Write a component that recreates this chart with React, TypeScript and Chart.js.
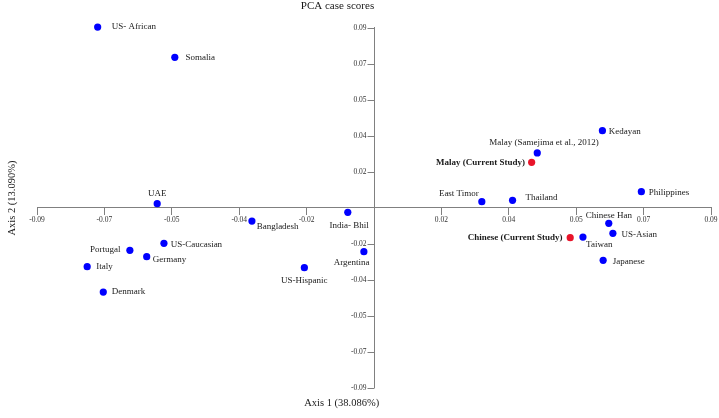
import React, { useEffect, useRef } from "react";
import { Chart, registerables } from "chart.js";

Chart.register(...registerables);

// ---- data ----
const populations = [
  "US- African", "Somalia", "UAE", "Bangladesh", "India- Bhil", "Argentina", "US-Hispanic",
  "US-Caucasian", "Portugal", "Germany", "Italy", "Denmark",
  "Kedayan", "Malay (Samejima et al., 2012)", "Malay (Current Study)", "East Timor", "Thailand",
  "Philippines", "Chinese Han", "US-Asian", "Taiwan", "Chinese (Current Study)", "Japanese",
];
const axis1Scores = [
  -0.0738, -0.0532, -0.0579, -0.0326, -0.0070, -0.0027, -0.0186,
  -0.0561, -0.0652, -0.0607, -0.0766, -0.0723,
  0.0610, 0.0436, 0.0421, 0.0288, 0.0370,
  0.0714, 0.0627, 0.0638, 0.0558, 0.0524, 0.0612,
];
const axis2Scores = [
  0.0903, 0.0752, 0.0020, -0.0067, -0.0023, -0.0220, -0.0300,
  -0.0178, -0.0213, -0.0245, -0.0295, -0.0422,
  0.0385, 0.0274, 0.0227, 0.0030, 0.0037,
  0.0080, -0.0078, -0.0128, -0.0147, -0.0150, -0.0263,
];
const currentStudy = [
  false, false, false, false, false, false, false,
  false, false, false, false, false,
  false, false, true, false, false,
  false, false, false, false, true, false,
];
const tickValues = [-0.09, -0.072, -0.054, -0.036, -0.018, 0.018, 0.036, 0.054, 0.072, 0.09];
const tickLabels = ["-0.09", "-0.07", "-0.05", "-0.04", "-0.02", "0.02", "0.04", "0.05", "0.07", "0.09"];

const chartTitle = "PCA case scores";
const xAxisTitle = "Axis 1 (38.086%)";
const yAxisTitle = "Axis 2 (13.090%)";

// ---- label placement (pixel offsets from the point, alignment) ----
const labelPlacement: [number, number, CanvasTextAlign][] = [
  [14, 0, "left"], [10.7, 0, "left"], [0, -9.7, "center"], [4.7, 5.7, "left"], [1.3, 13.4, "center"],
  [-12.3, 11, "center"], [0, 12.6, "center"],
  [6.7, 1, "left"], [-9.3, -1, "right"], [6, 2.6, "left"], [9, 0, "left"], [8.4, 0, "left"],
  [6.4, 0.6, "left"], [6.7, -10.7, "center"], [-6.7, 0, "right"], [-23, -7.7, "center"], [13, -2.3, "left"],
  [7.4, 1.3, "left"], [0, -8, "center"], [8.7, 1, "left"], [16.3, 8, "center"], [-7.6, 0, "right"], [9.7, 1.4, "left"],
];

const SERIF = '"Liberation Serif", "Times New Roman", serif';
const BLUE = "#0000ff";
const RED = "#e8142a";
const AXIS_GREY = "#808080";
const TICK_LEN = 7;

const labelsPlugin = {
  id: "pointLabels",
  afterDatasetsDraw(chart: any) {
    const ctx = chart.ctx;
    const meta = chart.getDatasetMeta(0);
    ctx.save();
    ctx.fillStyle = "#1a1a1a";
    ctx.textBaseline = "middle";
    meta.data.forEach((el: any, i: number) => {
      const [dx, dy, align] = labelPlacement[i];
      ctx.font = (currentStudy[i] ? "bold " : "") + "9px " + SERIF;
      ctx.textAlign = align;
      ctx.fillText(populations[i], el.x + dx, el.y + dy);
    });
    ctx.restore();
  },
};

// y-axis tick marks and labels, drawn at the scale's own pixels, left of the vertical axis
const yTicksPlugin = {
  id: "yTicks",
  afterDraw(chart: any) {
    const ctx = chart.ctx;
    const xs = chart.scales.x;
    const ys = chart.scales.y;
    const x0 = Math.round(xs.getPixelForValue(0)) + 0.5;
    ctx.save();
    ctx.strokeStyle = AXIS_GREY;
    ctx.lineWidth = 1;
    ctx.fillStyle = "#333";
    ctx.font = "7.5px " + SERIF;
    ctx.textAlign = "right";
    ctx.textBaseline = "middle";
    tickValues.forEach((v, i) => {
      const py = Math.round(ys.getPixelForValue(v)) + 0.5;
      ctx.beginPath();
      ctx.moveTo(x0 - TICK_LEN, py);
      ctx.lineTo(x0, py);
      ctx.stroke();
      ctx.fillText(tickLabels[i], x0 - TICK_LEN - 1, py);
    });
    ctx.restore();
  },
};

const titlesPlugin = {
  id: "titles",
  afterDraw(chart: any) {
    const ctx = chart.ctx;
    ctx.save();
    ctx.fillStyle = "#1a1a1a";
    ctx.textBaseline = "middle";
    ctx.textAlign = "center";
    ctx.font = "11px " + SERIF;
    ctx.fillText(chartTitle, 337.5, 6);
    ctx.font = "10.5px " + SERIF;
    ctx.fillText(xAxisTitle, 341.7, 403);
    ctx.translate(12, 198);
    ctx.rotate(-Math.PI / 2);
    ctx.fillText(yAxisTitle, 0, 0);
    ctx.restore();
  },
};

export default function App() {
  const ref = useRef<HTMLCanvasElement>(null);
  useEffect(() => {
    if (!ref.current) return;
    const chart = new Chart(ref.current, {
      type: "scatter",
      data: {
        datasets: [
          {
            data: axis1Scores.map((x, i) => ({ x, y: axis2Scores[i] })),
            pointRadius: 3.6,
            pointBorderWidth: 0,
            pointBackgroundColor: currentStudy.map((c) => (c ? RED : BLUE)),
            pointBorderColor: currentStudy.map((c) => (c ? RED : BLUE)),
            clip: false,
          },
        ],
      },
      options: {
        responsive: false,
        animation: false,
        layout: { padding: { left: 37, right: 8, top: 27.7, bottom: 30.3 } },
        plugins: { legend: { display: false }, tooltip: { enabled: false }, title: { display: false } },
        scales: {
          x: {
            type: "linear",
            position: { y: 0 },
            min: -0.09,
            max: 0.09,
            afterBuildTicks(scale: any) {
              scale.ticks = tickValues.map((v) => ({ value: v }));
            },
            ticks: {
              autoSkip: false,
              maxRotation: 0,
              padding: 1,
              color: "#333",
              font: { family: SERIF, size: 7.5 },
              callback: (_v: any, i: number) => tickLabels[i],
            },
            grid: {
              display: true,
              drawOnChartArea: false,
              drawTicks: true,
              tickLength: TICK_LEN,
              color: AXIS_GREY,
              lineWidth: 1,
            },
            border: { display: true, color: AXIS_GREY, width: 1 },
          },
          y: {
            type: "linear",
            position: { x: 0 },
            min: -0.09,
            max: 0.09,
            afterBuildTicks(scale: any) {
              scale.ticks = tickValues.map((v) => ({ value: v }));
            },
            ticks: { display: false },
            grid: { display: false, drawOnChartArea: false, drawTicks: false },
            border: { display: true, color: AXIS_GREY, width: 1 },
          },
        },
      },
      plugins: [labelsPlugin, yTicksPlugin, titlesPlugin],
    } as any);
    return () => chart.destroy();
  }, []);
  return (
    <div style={{ position: "fixed", left: 0, top: 0, width: 719, height: 418, background: "#fff" }}>
      <canvas ref={ref} width={719} height={418} />
    </div>
  );
}
